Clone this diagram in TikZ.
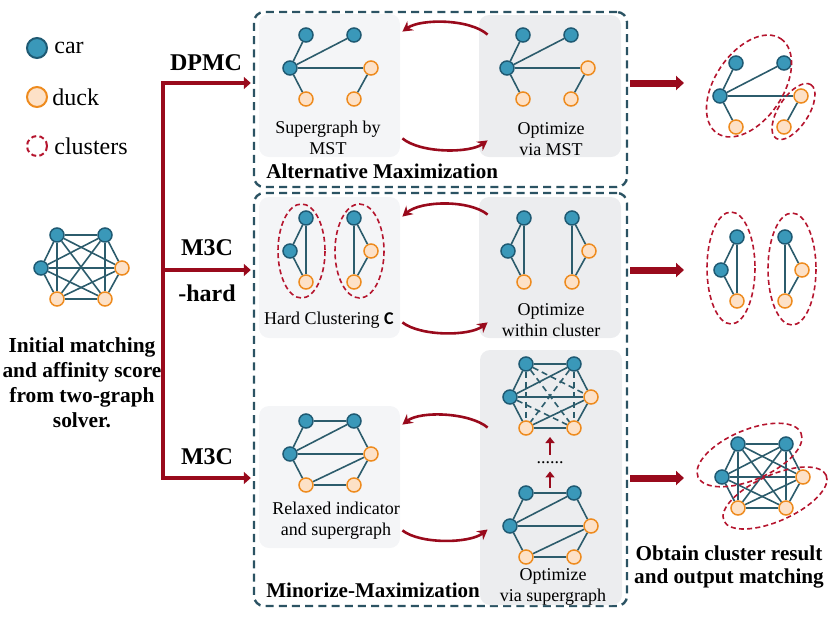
\documentclass[tikz,border=0pt]{standalone}
\usepackage{fontspec}
\setmainfont{Liberation Serif}
\setsansfont{Carlito}
\usetikzlibrary{arrows.meta,positioning,calc}

\definecolor{carfill}{HTML}{3A98B9}
\definecolor{cardraw}{HTML}{1F5A73}
\definecolor{duckfill}{HTML}{FDE1C7}
\definecolor{duckdraw}{HTML}{EE8B1E}
\definecolor{edgecol}{HTML}{2C5C6C}
\definecolor{darkred}{HTML}{990A1C}
\definecolor{clucol}{HTML}{B5152E}
\definecolor{boxcol}{HTML}{2B5363}
\definecolor{paneA}{HTML}{F4F5F7}
\definecolor{paneB}{HTML}{ECEDEF}

% six vertices of one graph: #1 prefix, (#2,#3) top-left vertex
\newcommand{\hexnodes}[3]{%
  \node[car]  (#1-1) at (#2,#3) {};
  \node[car]  (#1-2) at (#2+48,#3) {};
  \node[car]  (#1-3) at (#2-16,#3+33) {};
  \node[duck] (#1-4) at (#2+65,#3+33) {};
  \node[duck] (#1-5) at (#2,#3+64) {};
  \node[duck] (#1-6) at (#2+48,#3+64) {};
}
\newcommand{\hexedges}[3][]{%
  \foreach \a/\b in {#3} \draw[ed,#1] (#2-\a) -- (#2-\b);
}
\newcommand{\fulledges}[1]{%
  \foreach \a in {1,...,5}{
    \pgfmathtruncatemacro\nxt{\a+1}
    \foreach \b in {\nxt,...,6} \draw[ed] (#1-\a) -- (#1-\b);
  }
}

\begin{document}
\begin{tikzpicture}[x=0.5pt,y=-0.5pt,>=Stealth]
\tikzstyle{car}=[circle,draw=cardraw,fill=carfill,line width=0.75pt,minimum size=7pt,inner sep=0pt]
\tikzstyle{duck}=[circle,draw=duckdraw,fill=duckfill,line width=0.75pt,minimum size=7pt,inner sep=0pt]
\tikzstyle{ed}=[draw=edgecol,line width=0.8pt]
\tikzstyle{clu}=[draw=clucol,line width=0.8pt,dash pattern=on 2.5pt off 1.6pt]
\tikzstyle{pane}=[rounded corners=5pt,inner sep=0pt]
\tikzstyle{dbox}=[draw=boxcol,line width=1.2pt,dash pattern=on 4pt off 2.6pt,rounded corners=5pt,inner sep=0pt]
\tikzstyle{lab}=[font=\fontsize{9}{10.5}\selectfont,align=center,inner sep=1pt]
\tikzstyle{leg}=[font=\fontsize{12}{14}\selectfont,inner sep=1pt]
\tikzstyle{ttl}=[font=\fontsize{12}{14}\selectfont\bfseries,inner sep=1pt]
\tikzstyle{sec}=[font=\fontsize{10.5}{12}\selectfont\bfseries,inner sep=1pt]
\tikzstyle{branch}=[draw=darkred,line width=2pt,-{Triangle[length=3.5pt,width=6pt]}]
\tikzstyle{outarr}=[draw=darkred,line width=3.5pt,-{Triangle[length=4pt,width=7pt]}]
\tikzstyle{cyc}=[draw=darkred,line width=1.3pt,-{Stealth[length=5pt,width=5.5pt]}]
\tikzstyle{smallarr}=[draw=darkred,line width=1.4pt,-{Triangle[length=3pt,width=4.5pt]}]
\useasboundingbox (0,0) rectangle (831,617);

% legend
\node[car,minimum size=10pt,line width=1pt] (lg1) at (37,48) {};
\node[duck,minimum size=10pt,line width=1pt] (lg2) at (37,97) {};
\node[circle,clu,minimum size=10pt,line width=1pt] (lg3) at (37,146) {};
\node[leg,right=2pt of lg1] (lt1) {car};
\node[leg,right=1pt of lg2] (lt2) {duck};
\node[leg,right=2pt of lg3] (lt3) {clusters};

% input graph
\hexnodes{g0}{57}{235}
\fulledges{g0}
\node[font=\fontsize{10.7}{12.5}\selectfont\bfseries,align=center] (init) at (82,383)
  {Initial matching\\and affinity score\\from two-graph\\solver.};

% dashed frames and panels
\node[dbox,minimum width=186.5pt,minimum height=87.5pt] (b1) at (440.5,99.5) {};
\node[dbox,minimum width=186.5pt,minimum height=206.5pt] (b2) at (440.5,399.5) {};
\node[pane,fill=paneA,minimum width=70.5pt,minimum height=71.5pt] (p1) at (329.5,85.5) {};
\node[pane,fill=paneB,minimum width=71pt,minimum height=71pt] (p2) at (550,86) {};
\node[pane,fill=paneA,minimum width=70.5pt,minimum height=70.5pt] (p3) at (329.5,267.5) {};
\node[pane,fill=paneB,minimum width=71pt,minimum height=70.5pt] (p4) at (550,267.5) {};
\node[pane,fill=paneA,minimum width=70.5pt,minimum height=71pt] (p5) at (329.5,477) {};
\node[pane,fill=paneB,minimum width=71pt,minimum height=127.5pt] (p6) at (551,477.5) {};

% branches
\coordinate (j1) at (163,83);
\coordinate (j2) at (163,270);
\coordinate (j3) at (163,478);
\draw[branch] (j3) -- (j1) -- ($(b1.west|-j1)+(-2,0)$);
\draw[branch] (j2) -- ($(b2.west|-j2)+(-2,0)$);
\draw[branch] (j2) -- (j3) -- ($(b2.west|-j3)+(-2,0)$);
\node[ttl] (dpmc) at (206,63) {DPMC};
\node[ttl] (m3ch) at (207,248) {M3C};
\node[ttl] (hard) at (207,293) {-hard};
\node[ttl] (m3c) at (207,457) {M3C};

% DPMC
\hexnodes{g1}{306}{35}
\hexnodes{g2}{523}{35}
\hexedges{g1}{1/3,2/3,3/4,3/5,4/6}
\hexedges{g2}{1/3,2/3,3/4,3/5,4/6}
\node[lab] (t1) at (328,138) {Supergraph by\\MST};
\node[lab] (t2) at (551,139) {Optimize\\via MST};
\draw[cyc] ($(p2.north west)+(9,20)$) .. controls +(-18,-16) and +(18,-13) .. ($(p1.north east)+(2,18)$);
\draw[cyc] ($(p1.south east)+(2,-19)$) .. controls +(18,15) and +(-18,13) .. ($(p2.south west)+(9,-17)$);
\node[sec,anchor=west] (am) at (264,171) {Alternative Maximization};

% M3C-hard
\hexnodes{g3}{306}{218}
\hexnodes{g4}{524}{218}
\hexedges{g3}{1/3,3/5,1/5,2/4,4/6,2/6}
\hexedges{g4}{1/3,3/5,1/5,2/4,4/6,2/6}
\draw[clu] (301.5,251) ellipse [x radius=23.5,y radius=47];
\draw[clu] (359.5,251) ellipse [x radius=24.5,y radius=47];
\node[lab] (t3) at (329,320) {Hard Clustering \textsf{\textbf{C}}};
\node[lab] (t4) at (551,320) {Optimize\\within cluster};
\draw[cyc] ($(p4.north west)+(9,18)$) .. controls +(-18,-15) and +(18,-16) .. ($(p3.north east)+(2,20)$);
\draw[cyc] ($(p3.south east)+(2,-16)$) .. controls +(18,14) and +(-18,14) .. ($(p4.south west)+(9,-16)$);

% M3C
\hexnodes{g5}{306}{421}
\hexnodes{g6}{526}{364}
\hexnodes{g7}{526}{493}
\hexedges{g5}{1/2,2/4,4/6,5/6,3/5,1/3,2/3,3/4,4/5}
\hexedges{g6}{1/2,2/4,4/6,5/6,3/5,1/3,2/3,3/4,4/5}
\hexedges[dash pattern=on 3pt off 2pt]{g6}{1/5,2/6,1/6,2/5,1/4,3/6}
\hexedges{g7}{1/2,2/4,4/6,5/6,3/5,1/3,2/3,3/4,4/5}
\node[lab,minimum height=8pt,inner sep=0pt] (dots) at (550,463) {......};
\draw[smallarr] ($(g7-1)!.5!(g7-2)+(0,-5)$) -- (dots.south);
\draw[smallarr] (dots.north) -- ($(g6-5)!.5!(g6-6)+(0,9)$);
\node[lab] (t5) at (336,521) {Relaxed indicator\\and supergraph};
\node[lab] (t6) at (553,587) {Optimize\\via supergraph};
\draw[cyc] ($(p6.west)+(8,-50)$) .. controls +(-18,-15) and +(18,-14) .. ($(p5.north east)+(2,19)$);
\draw[cyc] ($(p5.south east)+(2,-18)$) .. controls +(18,14) and +(-18,14) .. ($(p6.west)+(8,52)$);
\node[sec,anchor=west] (mm) at (264,590) {Minorize-Maximization};

% outputs
\coordinate (o1) at (684,83);
\coordinate (o2) at (684,270);
\coordinate (o3) at (684,478);
\draw[outarr] ($(b1.east|-o1)+(2,0)$) -- (o1);
\draw[outarr] ($(b2.east|-o2)+(2,0)$) -- (o2);
\draw[outarr] ($(b2.east|-o3)+(2,0)$) -- (o3);

\hexnodes{r1}{736}{63}
\hexedges{r1}{1/3,2/3,3/4,3/5,4/6}
\draw[clu,rotate around={56:(749,86)}] (749,86) ellipse [x radius=57,y radius=34];
\draw[clu,rotate around={57:(793.5,111.5)}] (793.5,111.5) ellipse [x radius=32,y radius=15];

\hexnodes{r2}{737}{237}
\hexedges{r2}{1/3,3/5,1/5,2/4,4/6,2/6}
\draw[clu] (731,268) ellipse [x radius=24,y radius=56];
\draw[clu] (792,269) ellipse [x radius=24,y radius=56];

\hexnodes{r3}{738}{444}
\fulledges{r3}
\draw[clu,rotate around={23:(749.5,455)}] (749.5,455) ellipse [x radius=56,y radius=25];
\draw[clu,rotate around={24:(775,498)}] (775,498) ellipse [x radius=56,y radius=23];
\node[font=\fontsize{10.6}{11.5}\selectfont\bfseries,align=center] (res) at (729,567)
  {Obtain cluster result\\and output matching};
\end{tikzpicture}
\end{document}
